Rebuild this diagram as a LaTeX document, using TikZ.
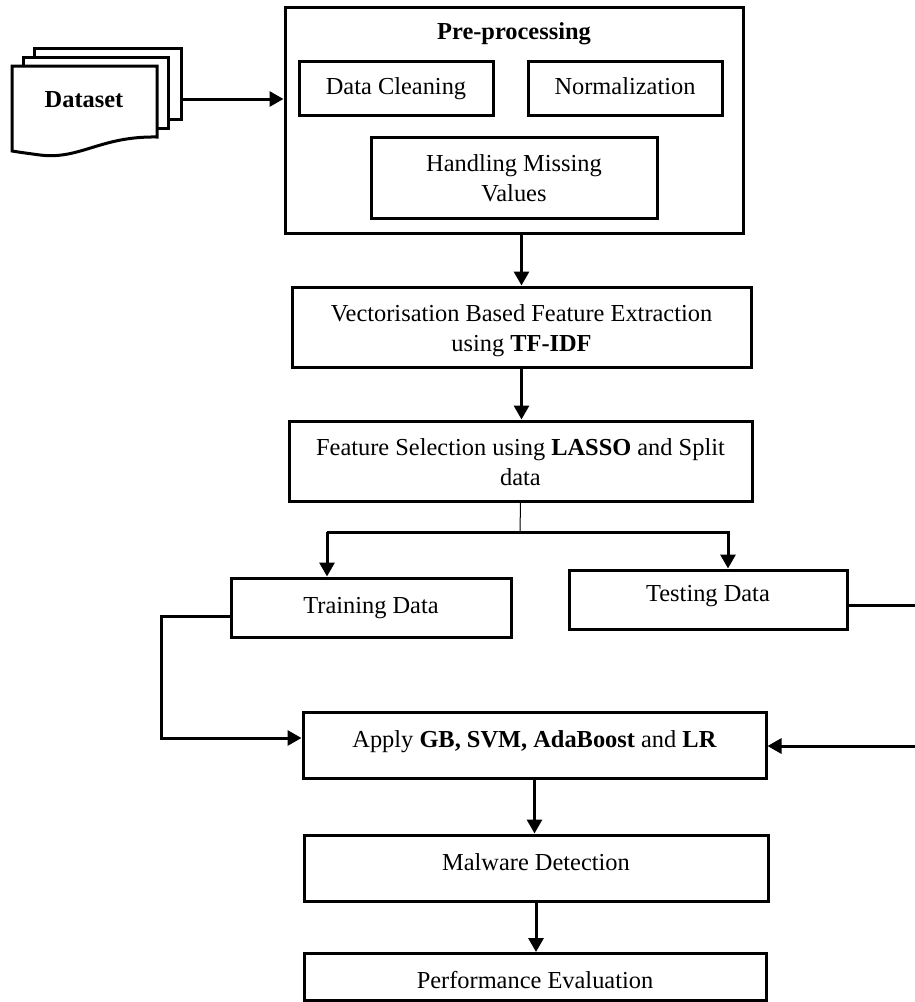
\documentclass[tikz,border=0pt]{standalone}
\usepackage{fontspec}
\setmainfont{Liberation Serif}
\usetikzlibrary{arrows.meta}

\begin{document}
\begin{tikzpicture}[x=0.5pt,y=-0.5pt,font=\fontsize{12.2}{15}\selectfont,
			box/.style={draw,line width=1.5pt,inner sep=0pt,align=center,execute at begin node=\strut},
			two/.style={text height=28.5pt},
			high/.style={text height=8.5pt,text depth=6.5pt},
			arr/.style={line width=1.5pt,-{Triangle[length=7pt,width=7.5pt]}}]
			\useasboundingbox (0,0) rectangle (915,1002);
			\filldraw[fill=white,line width=1.5pt] (34,48) rectangle (181,119);
			\filldraw[fill=white,line width=1.5pt] (23,57) rectangle (168,128);
			\filldraw[fill=white,line width=1.5pt] (12,66) -- (157,66) -- (157,137) .. controls (100,136) and (80,160) .. (40,155) .. controls (25,153) and (18,152) .. (12,151) -- cycle;
			\node (data) at (84,100) {\textbf{Dataset}};
			\coordinate (dsR) at (181,99);
			\node[box,minimum width=229pt,minimum height=113pt] (pre) at (514,120) {};
			\node (pretitle) at (514,34) {\textbf{Pre-processing}};
			\node[box,minimum width=97pt,minimum height=27pt] (clean) at (396,88) {Data Cleaning};
			\node[box,minimum width=97pt,minimum height=27pt] (norm) at (625,88) {Normalization};
			\node[box,two,minimum width=143pt,minimum height=40.5pt] (miss) at (514,177.5) {Handling Missing\\Values};
			\node[box,two,minimum width=229.5pt,minimum height=40pt] (vec) at (521.5,327) {Vectorisation Based Feature Extraction\\using \textbf{TF-IDF}};
			\node[box,two,minimum width=231.5pt,minimum height=40pt] (sel) at (520.5,461) {Feature Selection using \textbf{LASSO} and Split\\data};
			\node[box,minimum width=140pt,minimum height=29.5pt] (train) at (371,607.5) {Training Data};
			\node[box,high,minimum width=139pt,minimum height=29.5pt] (test) at (708,599.5) {Testing Data};
			\node[box,high,minimum width=231.5pt,minimum height=33pt] (apply) at (534.5,745) {Apply \textbf{GB, SVM, AdaBoost} and \textbf{LR}};
			\node[box,high,minimum width=232pt,minimum height=33pt] (mal) at (536,868) {Malware Detection};
			\node[box,text height=11pt,text depth=0pt,minimum width=231pt,minimum height=23.5pt] (perf) at (535,977) {Performance Evaluation};
			\draw[arr] (dsR) -- (dsR -| pre.west);
			\draw[arr] (vec.north |- pre.south) -- (vec.north);
			\draw[arr] (vec.south) -- (vec.south |- sel.north);
			\coordinate (split) at (520,532);
			\coordinate (trtop) at (327,532);
			\coordinate (tetop) at (728,532);
			\draw[line width=0.5pt] (sel.south) -- (split);
			\draw[arr] (trtop) -- (tetop) -- (tetop |- test.north);
			\draw[arr] (trtop) -- (trtop |- train.north);
			\coordinate (trbend) at (161,616);
			\coordinate (apbend) at (161,738);
			\draw[arr] (trbend -| train.west) -- (trbend) -- (apbend) -- (apbend -| apply.west);
			\coordinate (tebend) at (917,605);
			\coordinate (tebend2) at (917,746);
			\draw[arr] (tebend -| test.east) -- (tebend) -- (tebend2) -- (tebend2 -| apply.east);
			\draw[arr] (apply.south) -- (apply.south |- mal.north);
			\draw[arr] (mal.south) -- (mal.south |- perf.north);
		\end{tikzpicture}
\end{document}
